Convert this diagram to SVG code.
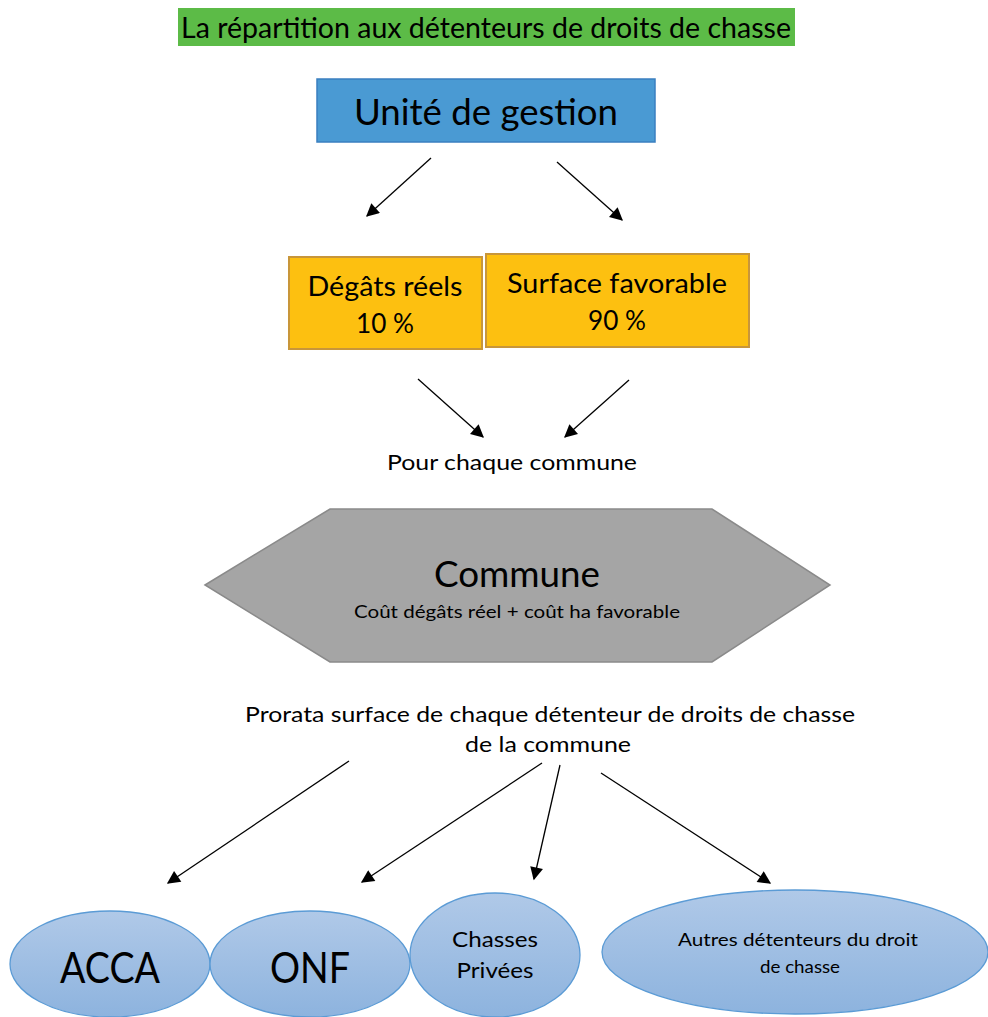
<svg xmlns="http://www.w3.org/2000/svg" width="988" height="1017" viewBox="0 0 988 1017">
<defs>
<style>
text{font-family:"Lato","Open Sans","Liberation Sans",sans-serif;fill:#000;text-anchor:middle}
.conn line{stroke:#000;stroke-width:1.3;marker-end:url(#ah)}
.ell{fill:url(#bg);stroke:#5b9bd5;stroke-width:1.3}
.org{fill:#fdc010;stroke:#c8963a;stroke-width:2}
</style>
<marker id="ah" viewBox="0 0 10 10" refX="9" refY="5" markerWidth="14" markerHeight="13" markerUnits="userSpaceOnUse" orient="auto">
<path d="M0,0 L10,5 L0,10 z" fill="#000"/>
</marker>
<linearGradient id="bg" x1="0" y1="0" x2="0" y2="1">
<stop offset="0" stop-color="#b0c9e8"/>
<stop offset="1" stop-color="#8db3de"/>
</linearGradient>
</defs>
<rect width="988" height="1017" fill="#fff"/>
<g id="title">
<rect x="178" y="8" width="617" height="38" fill="#5cbb47"/>
<text x="486" y="38" font-size="28" textLength="610" lengthAdjust="spacingAndGlyphs">La répartition aux détenteurs de droits de chasse</text>
</g>
<g id="unite">
<rect x="317" y="79" width="338" height="63" fill="#4a9ad3" stroke="#3a7fc0" stroke-width="1.5"/>
<text x="486" y="125" font-size="36" textLength="264" lengthAdjust="spacingAndGlyphs">Unité de gestion</text>
</g>
<g id="degats">
<rect x="289" y="257" width="193" height="92" class="org"/>
<text x="385" y="296" font-size="26" textLength="155" lengthAdjust="spacingAndGlyphs">Dégâts réels</text>
<text x="385" y="333" font-size="26" textLength="58" lengthAdjust="spacingAndGlyphs">10 %</text>
</g>
<g id="surface">
<rect x="486" y="254" width="263" height="93" class="org"/>
<text x="617" y="293" font-size="26" textLength="220" lengthAdjust="spacingAndGlyphs">Surface favorable</text>
<text x="617" y="330" font-size="26" textLength="58" lengthAdjust="spacingAndGlyphs">90 %</text>
</g>
<g id="pour">
<text x="512" y="470" font-size="21" textLength="250" lengthAdjust="spacingAndGlyphs">Pour chaque commune</text>
</g>
<g id="commune">
<polygon points="205,585 330,509 712,509 830,585 712,662 330,662" fill="#a5a5a5" stroke="#8a8a8a" stroke-width="1.5"/>
<text x="517" y="587" font-size="37" textLength="166" lengthAdjust="spacingAndGlyphs">Commune</text>
<text x="517" y="618" font-size="17" textLength="326" lengthAdjust="spacingAndGlyphs">Coût dégâts réel + coût ha favorable</text>
</g>
<g id="prorata">
<text x="550" y="722" font-size="22" textLength="610" lengthAdjust="spacingAndGlyphs">Prorata surface de chaque détenteur de droits de chasse</text>
<text x="548" y="752" font-size="22" textLength="166" lengthAdjust="spacingAndGlyphs">de la commune</text>
</g>
<g id="acca">
<ellipse cx="110" cy="964" rx="100" ry="53" class="ell"/>
<text x="110" y="983" font-size="42" textLength="100" lengthAdjust="spacingAndGlyphs">ACCA</text>
</g>
<g id="onf">
<ellipse cx="310" cy="964" rx="100" ry="53" class="ell"/>
<text x="310" y="983" font-size="42" textLength="80" lengthAdjust="spacingAndGlyphs">ONF</text>
</g>
<g id="privees">
<ellipse cx="495" cy="955" rx="85" ry="62" class="ell"/>
<text x="495" y="947" font-size="22" textLength="86" lengthAdjust="spacingAndGlyphs">Chasses</text>
<text x="495" y="978" font-size="22" textLength="77" lengthAdjust="spacingAndGlyphs">Privées</text>
</g>
<g id="autres">
<ellipse cx="795" cy="952" rx="193" ry="62" class="ell"/>
<text x="798" y="946" font-size="17" textLength="240" lengthAdjust="spacingAndGlyphs">Autres détenteurs du droit</text>
<text x="800" y="973" font-size="17" textLength="80" lengthAdjust="spacingAndGlyphs">de chasse</text>
</g>
<g id="connectors" class="conn">
<line x1="431" y1="158" x2="367" y2="216"/>
<line x1="557" y1="162" x2="622" y2="220"/>
<line x1="418" y1="379" x2="483" y2="437"/>
<line x1="629" y1="380" x2="565" y2="437"/>
<line x1="349" y1="761" x2="168" y2="883"/>
<line x1="542" y1="763" x2="362" y2="882"/>
<line x1="560" y1="765" x2="534" y2="879"/>
<line x1="601" y1="773" x2="770" y2="883"/>
</g>
</svg>
